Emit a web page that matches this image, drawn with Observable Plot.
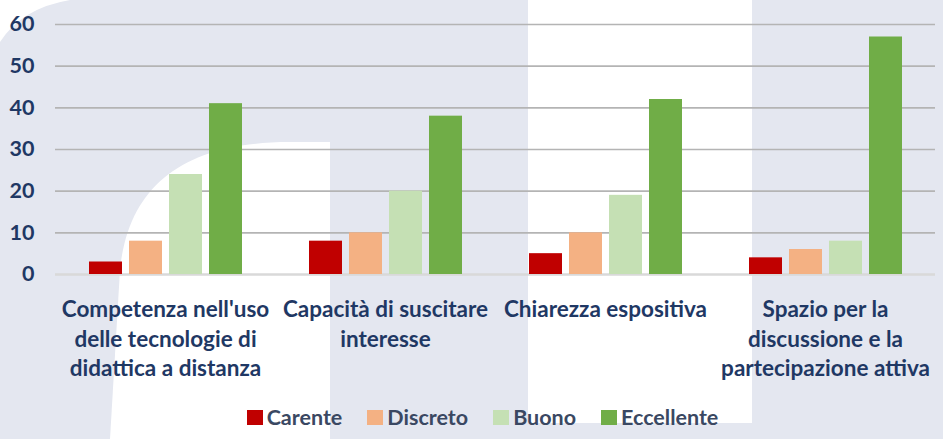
<!DOCTYPE html>
<html>
<head>
<meta charset="utf-8">
<script src="https://cdn.jsdelivr.net/npm/d3@7"></script>
<script src="https://cdn.jsdelivr.net/npm/@observablehq/plot@0.6"></script>
<style>
  html, body { margin: 0; padding: 0; background: #fff; }
  #wrap { position: relative; width: 943px; height: 439px; overflow: hidden; font-family: Lato, "Open Sans", sans-serif; }
  #bg { position: absolute; left: 0; top: 0; }
  #chart { position: absolute; left: 0; top: 0; }
  #legend { position: absolute; left: 0; top: 405px; width: 943px; height: 24px; display: flex; justify-content: center; align-items: center; padding-left: 22px; box-sizing: border-box; }
  .item { display: flex; align-items: center; margin: 0 12.5px; font-weight: bold; font-size: 21.5px; color: #3a4862; }
  .sw { width: 16px; height: 15px; margin-right: 4px; }
</style>
</head>
<body>
<div id="wrap">
  <svg id="bg" width="943" height="439">
    <rect x="0" y="0" width="943" height="439" fill="#e4e7f0"></rect>
    <path d="M0,0 H70 Q22,8 0,42 Z" fill="#ffffff"></path>
    <path d="M110,439 L120,270 C128,185 185,142 290,142 H330 V439 Z" fill="#ffffff"></path>
    <path d="M528,0 H752 V423 H528 Z" fill="#ffffff"></path>
  </svg>
  <div id="chart"></div>
  <div id="legend"></div>
</div>
<script>
const categories = [
  "Competenza nell'uso delle tecnologie di didattica a distanza",
  "Capacità di suscitare interesse",
  "Chiarezza espositiva",
  "Spazio per la discussione e la partecipazione attiva"
];
const categoryLabels = [
  "Competenza nell'uso\ndelle tecnologie di\ndidattica a distanza",
  "Capacità di suscitare\ninteresse",
  "Chiarezza espositiva",
  "Spazio per la\ndiscussione e la\npartecipazione attiva"
];
const series = ["Carente", "Discreto", "Buono", "Eccellente"];
const carente = [3, 8, 5, 4];
const discreto = [8, 10, 10, 6];
const buono = [24, 20, 19, 8];
const eccellente = [41, 38, 42, 57];
const colors = ["#c00000", "#f4b183", "#c5e0b4", "#70ad47"];
const yTicks = [0, 10, 20, 30, 40, 50, 60];

const valuesBySeries = [carente, discreto, buono, eccellente];
const data = categories.flatMap((c, i) =>
  series.map((s, j) => ({category: c, series: s, value: valuesBySeries[j][i]}))
);

const chart = Plot.plot({
  width: 943,
  height: 392,
  marginLeft: 55,
  marginRight: 8,
  marginTop: 24,
  marginBottom: 118,
  style: {background: "transparent", fontFamily: "Lato, 'Open Sans', sans-serif", color: "#1f3864", overflow: "visible"},
  fx: {domain: categories, padding: 0, label: null},
  x: {domain: series, paddingInner: 0.175, paddingOuter: 0.8375, axis: null},
  y: {domain: [0, 60], label: null},
  color: {domain: series, range: colors},
  marks: [
    Plot.ruleY(yTicks.filter(d => d > 0), {stroke: "#b4b4b4", strokeWidth: 1.6}),
    Plot.ruleY([0], {stroke: "#d9d9d9", strokeWidth: 2.5}),
    Plot.barY(data, {fx: "category", x: "series", y: "value", fill: "series"}),
    Plot.axisY({ticks: yTicks, tickSize: 0, tickPadding: 21, fontSize: 21.5, fontWeight: "bold", label: null, fill: "#1f3864"}),
    Plot.axisFx({anchor: "bottom", tickSize: 0, tickPadding: 22, fontSize: 22.5, fontWeight: "bold", lineHeight: 1.3, label: null,
      tickFormat: c => categoryLabels[categories.indexOf(c)], fill: "#1f3864"})
  ]
});
document.getElementById("chart").appendChild(chart);

const legend = d3.select("#legend");
series.forEach((s, i) => {
  const it = legend.append("div").attr("class", "item");
  it.append("div").attr("class", "sw").style("background", colors[i]);
  it.append("span").text(s);
});
</script>
</body>
</html>
